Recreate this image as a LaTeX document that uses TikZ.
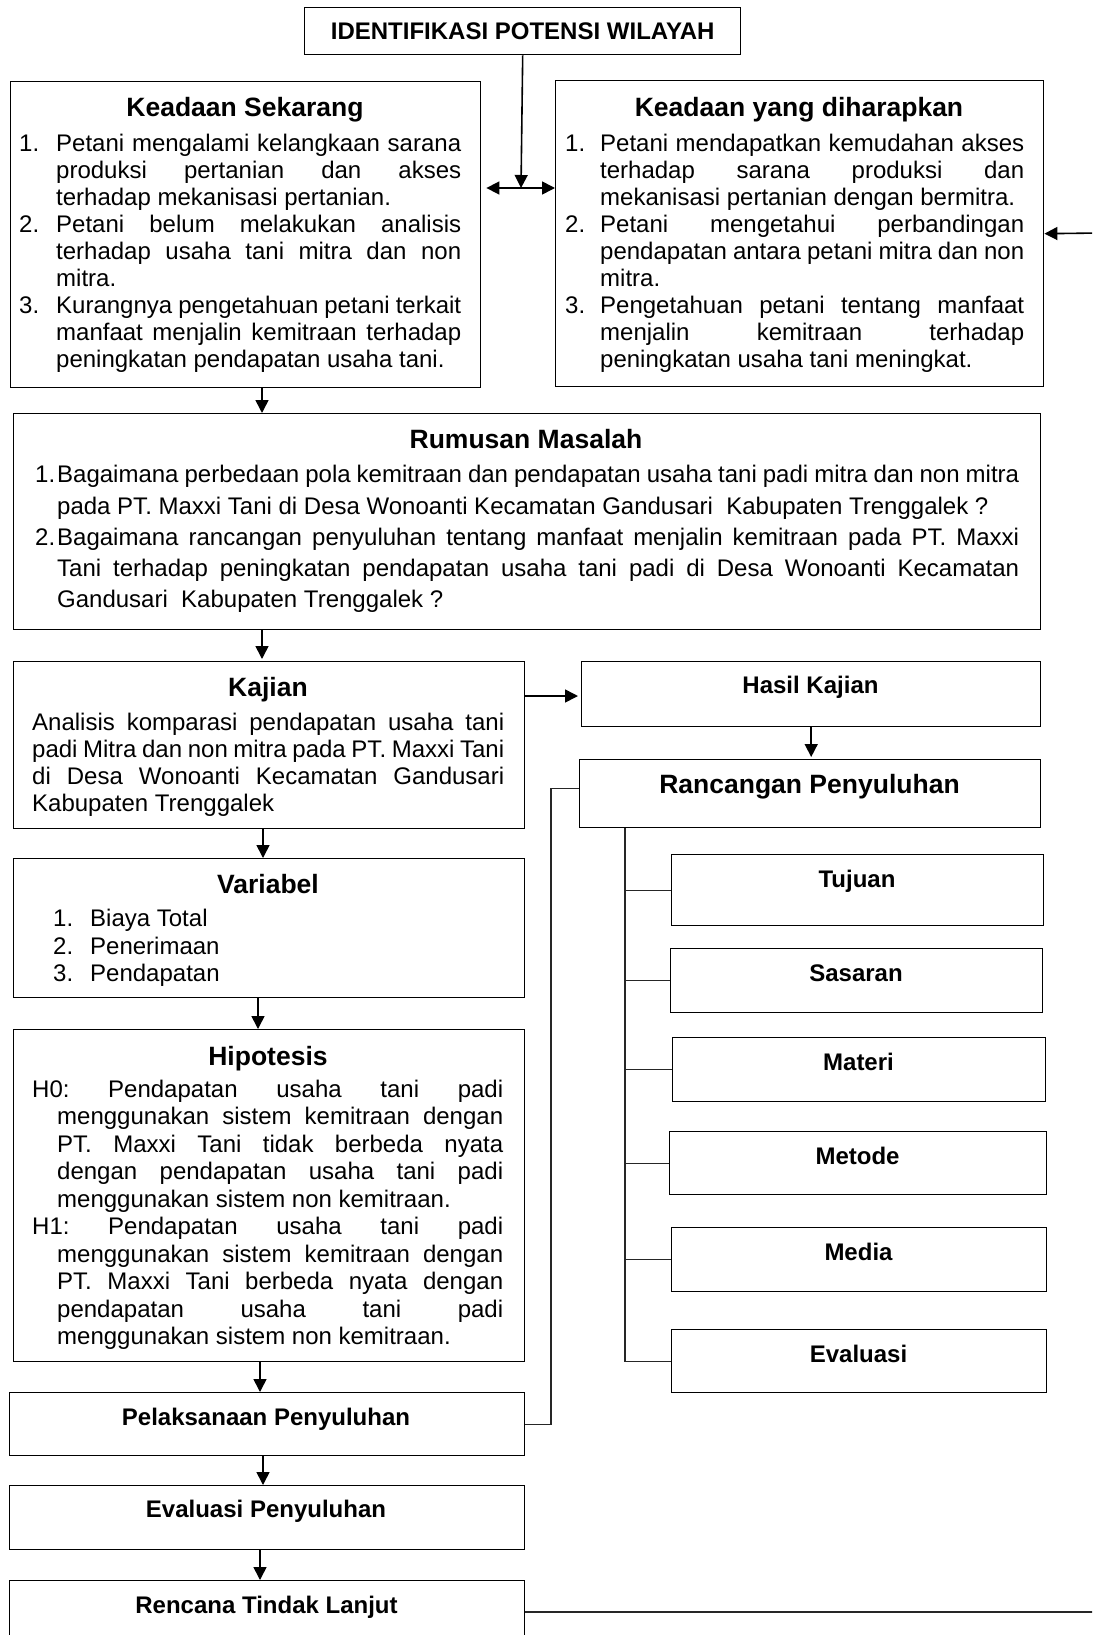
\documentclass[tikz,border=0pt]{standalone}
\usepackage{fontspec}
\setmainfont{Liberation Sans}[WordSpace={1,1.2,1.8}]
\usetikzlibrary{arrows.meta}
\newcommand{\itm}[3]{\hangindent=#1\hangafter=1\noindent\strut\makebox[#1][l]{#2}#3\par}
\newcommand{\bodyf}[1]{\fontsize{24}{#1}\selectfont\frenchspacing\tolerance=10000\hbadness=10000\relax}
\tikzset{
 box/.style={draw, line width=1.4pt, rectangle, inner sep=0pt, anchor=north west},
 head/.style={anchor=base, inner sep=0pt, font=\fontsize{26.5}{30}\selectfont\bfseries},
 lab/.style={anchor=base, inner sep=0pt, font=\fontsize{24}{27}\selectfont\bfseries},
 bodytext/.style={anchor=north west, inner sep=0pt, align=justify},
 arr/.style={line width=1.6pt, -{Triangle[length=13pt,width=13pt]}},
 dblarr/.style={line width=1.6pt, {Triangle[length=13pt,width=13pt]}-{Triangle[length=13pt,width=13pt]}},
 tree/.style={line width=1.1pt, black!85},
}
\begin{document}
\begin{tikzpicture}[x=1pt,y=-1pt]
\useasboundingbox (0,0) rectangle (1092,1635);
\fill[white] (0,0) rectangle (1092,1635);
\clip (0,0) rectangle (1092,1635);

% ---------- boxes ----------
\node[box, minimum width=436pt, minimum height=47pt, font=\fontsize{24}{27}\selectfont\bfseries] (idt) at (304,7) {IDENTIFIKASI POTENSI WILAYAH};
\node[box, minimum width=470pt, minimum height=306pt] (ks) at (10,81) {};
\node[box, minimum width=488pt, minimum height=306pt] (kd) at (555,80) {};
\node[box, minimum width=1027.5pt, minimum height=216pt] (rm) at (12.5,413) {};
\node[box, minimum width=511.5pt, minimum height=167pt] (kj) at (12.5,661) {};
\node[box, minimum width=459pt, minimum height=65pt] (hk) at (581,661) {};
\node[box, minimum width=461pt, minimum height=68pt] (rp) at (579,759) {};
\node[box, minimum width=511.5pt, minimum height=139pt] (vb) at (12.5,858) {};
\node[box, minimum width=511.5pt, minimum height=332pt] (hp) at (12.5,1029) {};
\node[box, minimum width=372pt, minimum height=71pt] (tj) at (671,854) {};
\node[box, minimum width=372pt, minimum height=64pt] (ss) at (670,948) {};
\node[box, minimum width=373pt, minimum height=64pt] (mt) at (672,1037) {};
\node[box, minimum width=377pt, minimum height=63pt] (me) at (669,1131) {};
\node[box, minimum width=375pt, minimum height=64pt] (md) at (671,1227) {};
\node[box, minimum width=375pt, minimum height=63pt] (ev) at (671,1329) {};
\node[box, minimum width=515.5pt, minimum height=63pt] (pl) at (8.5,1392) {};
\node[box, minimum width=515.5pt, minimum height=64pt] (ep) at (8.5,1485) {};
\node[box, minimum width=515pt, minimum height=80pt] (rt) at (9,1580) {};

% ---------- headings and labels ----------
\node[head] (ksH) at (245,116.5) {Keadaan Sekarang};
\node[head] (kdH) at (799,116.5) {Keadaan yang diharapkan};
\node[head] (rmH) at (526,448.3) {Rumusan Masalah};
\node[head] (kjH) at (268,696.7) {Kajian};
\node[head] (vbH) at (268,893.3) {Variabel};
\node[head] (hpH) at (268,1065) {Hipotesis};
\node[lab] (hkL) at (810.5,693.3) {Hasil Kajian};
\node[head] (rpL) at (809.5,793.3) {Rancangan Penyuluhan};
\node[lab] (tjL) at (857,887) {Tujuan};
\node[lab] (ssL) at (856,981) {Sasaran};
\node[lab] (mtL) at (858.5,1070) {Materi};
\node[lab] (meL) at (857.5,1164) {Metode};
\node[lab] (mdL) at (858.5,1260) {Media};
\node[lab] (evL) at (858.5,1362) {Evaluasi};
\node[lab] (plL) at (266,1425) {Pelaksanaan Penyuluhan};
\node[lab] (epL) at (266,1517.5) {Evaluasi Penyuluhan};
\node[lab] (rtL) at (266.5,1613) {Rencana Tindak Lanjut};

% ---------- body texts ----------
\node[bodytext, text width=442pt] (ksB) at (19,132) {\bodyf{27.1}%
\itm{37pt}{1.}{Petani mengalami kelangkaan sarana\linebreak produksi pertanian dan akses\linebreak terhadap mekanisasi pertanian.}
\itm{37pt}{2.}{Petani belum melakukan analisis\linebreak terhadap usaha tani mitra dan non\linebreak mitra.}
\itm{37pt}{3.}{Kurangnya pengetahuan petani terkait\linebreak manfaat menjalin kemitraan terhadap\linebreak peningkatan pendapatan usaha tani.}};

\node[bodytext, text width=459pt] (kdB) at (565,132) {\bodyf{27.1}%
\itm{35pt}{1.}{Petani mendapatkan kemudahan akses\linebreak terhadap sarana produksi dan\linebreak mekanisasi pertanian dengan bermitra.}
\itm{35pt}{2.}{Petani mengetahui perbandingan\linebreak pendapatan antara petani mitra dan non\linebreak mitra.}
\itm{35pt}{3.}{Pengetahuan petani tentang manfaat\linebreak menjalin kemitraan terhadap\linebreak peningkatan usaha tani meningkat.}};

\node[bodytext, text width=984pt] (rmB) at (35,460.9) {\bodyf{31.2}%
\itm{22pt}{1.}{Bagaimana perbedaan pola kemitraan dan pendapatan usaha tani padi mitra dan non mitra\linebreak pada PT. Maxxi Tani di Desa Wonoanti Kecamatan Gandusari\ \ Kabupaten Trenggalek~?}
\itm{22pt}{2.}{Bagaimana rancangan penyuluhan tentang manfaat menjalin kemitraan pada PT. Maxxi\linebreak Tani terhadap peningkatan pendapatan usaha tani padi di Desa Wonoanti Kecamatan\linebreak Gandusari\ \ Kabupaten Trenggalek~?}};

\node[bodytext, text width=472pt] (kjB) at (32,711) {\bodyf{27.2}%
\noindent\strut Analisis komparasi pendapatan usaha tani\linebreak padi Mitra dan non mitra pada PT. Maxxi Tani\linebreak di Desa Wonoanti Kecamatan Gandusari\linebreak Kabupaten Trenggalek\par};

\node[bodytext, text width=300pt] (vbB) at (53,907.5) {\bodyf{27.5}%
\itm{37pt}{1.}{Biaya Total}
\itm{37pt}{2.}{Penerimaan}
\itm{37pt}{3.}{Pendapatan}};

\node[bodytext, text width=471pt] (hpB) at (32,1078) {\bodyf{27.5}%
\hangindent=25pt\hangafter=1\noindent\strut H0: Pendapatan usaha tani padi\linebreak menggunakan sistem kemitraan dengan\linebreak PT. Maxxi Tani tidak berbeda nyata\linebreak dengan pendapatan usaha tani padi\linebreak menggunakan sistem non kemitraan.\par
\hangindent=25pt\hangafter=1\noindent\strut H1: Pendapatan usaha tani padi\linebreak menggunakan sistem kemitraan dengan\linebreak PT. Maxxi Tani berbeda nyata dengan\linebreak pendapatan usaha tani padi\linebreak menggunakan sistem non kemitraan.\par};

% ---------- helper coordinates ----------
\coordinate (jn) at (521,188);
\coordinate (a1) at (262,0);
\coordinate (a2) at (262,0);
\coordinate (a3) at (263,0);
\coordinate (a4) at (258,0);
\coordinate (a5) at (260,0);
\coordinate (a6) at (263,0);
\coordinate (a7) at (260,0);
\coordinate (kh) at (550,696);
\coordinate (tx) at (625,0);
\coordinate (lx) at (551,1000);
\coordinate (fb) at (1100,233);
\coordinate (rr) at (1100,1612);

% ---------- connectors ----------
\draw[arr] (idt.south) -- (jn);
\draw[dblarr, shorten <=5pt] (ks.east |- jn) -- (kd.west |- jn);
\draw[arr] (fb) -- (kd.east);
\draw[arr] (ks.south -| a1) -- (rm.north -| a1);
\draw[arr, shorten >=2pt] (rm.south -| a2) -- (kj.north -| a2);
\draw[arr] (kj.south -| a3) -- (vb.north -| a3);
\draw[arr] (vb.south -| a4) -- (hp.north -| a4);
\draw[arr] (hp.south -| a5) -- (pl.north -| a5);
\draw[arr] (pl.south -| a6) -- (ep.north -| a6);
\draw[arr] (ep.south -| a7) -- (rt.north -| a7);
\draw[arr, shorten >=3pt] (kj.east |- kh) -- (hk.west |- kh);
\draw[arr, shorten >=2pt] (hk.south) -- (hk.south |- rp.north);

\draw[tree] (rp.south -| tx) |- (ev.west);
\foreach \n in {tj,ss,mt,me,md} { \draw[tree] (\n.west) -- (\n.west -| tx); }
\draw[tree] ([yshift=5pt]rp.west) -| (lx) |- (pl.east);
\draw[tree] (rt.east |- rr) -- (rr);
\end{tikzpicture}
\end{document}
